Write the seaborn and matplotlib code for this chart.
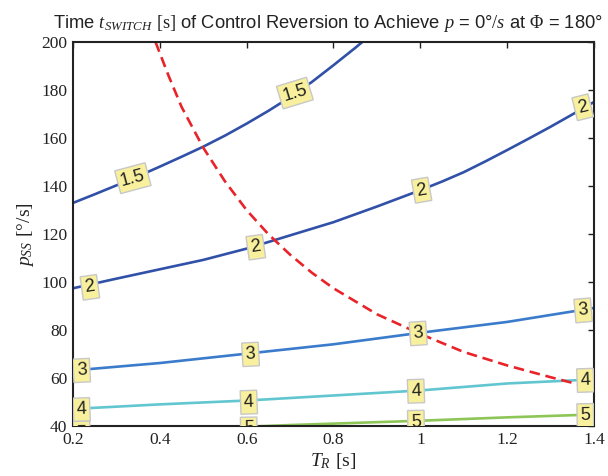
import matplotlib
matplotlib.use("Agg")
import matplotlib.pyplot as plt
import pandas as pd
import seaborn as sns

# Courbes de niveau t_SWITCH
T_15 = [0.2, 0.25, 0.3, 0.35, 0.4, 0.45, 0.5, 0.55, 0.6, 0.65, 0.7, 0.75,
        0.8, 0.85, 0.9]
P_15 = [133, 136.6, 140.3, 144.1, 148.1, 152.2, 156.4, 161, 166, 171.3,
        177, 183.3, 190.3, 197.5, 205]

T_2 = [0.2, 0.3, 0.4, 0.5, 0.6, 0.7, 0.8, 0.9, 1.0, 1.05, 1.1, 1.15, 1.2,
       1.25, 1.3, 1.35, 1.4]
P_2 = [97.5, 101.5, 105.4, 109.3, 114, 119.5, 125, 131.5, 138.3, 141.9,
       145.8, 150.3, 155, 159.8, 164.7, 169.8, 175]

T_3 = [0.2, 0.4, 0.6, 0.8, 1.0, 1.2, 1.4]
P_3 = [63.3, 66.4, 70.3, 74.2, 79, 83.5, 89.3]

T_4 = [0.2, 0.4, 0.6, 0.8, 1.0, 1.2, 1.4]
P_4 = [47.3, 49.2, 50.8, 52.9, 55, 57.9, 59.6]

T_5 = [0.55, 0.6, 0.7, 0.8, 1.0, 1.2, 1.4]
P_5 = [39.5, 39.9, 40.6, 41.2, 42.4, 43.8, 45]

# Courbe p = 0 deg/s a Phi = 180 deg (pointillés rouges)
T_RED = [0.39, 0.42, 0.45, 0.5, 0.55, 0.6, 0.65, 0.7, 0.75, 0.8, 0.9, 1.0,
         1.1, 1.2, 1.3, 1.375]
P_RED = [200, 186, 173, 156, 142, 130, 120, 111.5, 104, 97.5, 86.7, 78.5,
         71, 65.4, 60.5, 57]

LEVELS = ["1.5", "2", "3", "4", "5"]

# Étiquettes : niveau, T, p, rotation
LABELS = [
    ("1.5", 0.338, 143.3, 15), ("1.5", 0.711, 178.7, 17),
    ("2", 0.239, 97.9, 8), ("2", 0.621, 114.6, 8),
    ("2", 1.003, 138.3, 10), ("2", 1.374, 172.8, 14),
    ("3", 0.22, 63.3, 3), ("3", 0.609, 70.0, 3),
    ("3", 0.995, 78.7, 4), ("3", 1.375, 88.3, 5),
    ("4", 0.22, 47.0, 2), ("4", 0.605, 50.1, 2),
    ("4", 0.99, 54.7, 2), ("4", 1.38, 59.2, 2),
    ("5", 0.22, 37.3, 1), ("5", 0.605, 39.0, 1),
    ("5", 0.99, 41.8, 1), ("5", 1.38, 44.6, 1),
]

PALETTE = {"1.5": "#3151a8", "2": "#3151a8", "3": "#3b7bcb",
           "4": "#62c6d0", "5": "#8dc657"}

series = {"1.5": (T_15, P_15), "2": (T_2, P_2), "3": (T_3, P_3),
          "4": (T_4, P_4), "5": (T_5, P_5)}
df = pd.concat([pd.DataFrame({"T_R": t, "p_SS": p, "level": lvl})
                for lvl, (t, p) in series.items()], ignore_index=True)
df_red = pd.DataFrame({"T_R": T_RED, "p_SS": P_RED})

sns.set_theme(style="white")
plt.rcParams["font.family"] = ["Liberation Sans", "DejaVu Sans"]
plt.rcParams["mathtext.fontset"] = "custom"
plt.rcParams["mathtext.rm"] = "Liberation Serif"
plt.rcParams["mathtext.it"] = "Liberation Serif:italic"
plt.rcParams["mathtext.bf"] = "Liberation Serif:bold"

fig = plt.figure(figsize=(6.08, 4.76), dpi=100)
ax = fig.add_axes([0.120, 0.104, 0.857, 0.808])

for lvl in LEVELS:
    sns.lineplot(data=df[df["level"] == lvl], x="T_R", y="p_SS",
                 color=PALETTE[lvl], lw=1.9, sort=False, estimator=None, ax=ax)
sns.lineplot(data=df_red, x="T_R", y="p_SS", color="#e8242a", lw=1.9,
             linestyle=(0, (4, 2.2)), sort=False, estimator=None, ax=ax)

for lvl, x, y, rot in LABELS:
    ax.text(x, y, lvl, ha="center", va="center", rotation=rot,
            fontsize=13, color="#222222", zorder=5, clip_on=True,
            rotation_mode="anchor",
            bbox=dict(boxstyle="square,pad=0.18", fc="#f8f09c",
                      ec="#c8c8c8", lw=1.0))

ax.set_xlim(0.2, 1.4)
ax.set_ylim(40, 200)
ax.set_xticks([0.2, 0.4, 0.6, 0.8, 1.0, 1.2, 1.4])
ax.set_xticklabels(["0.2", "0.4", "0.6", "0.8", "1", "1.2", "1.4"])
ax.set_yticks(range(40, 201, 20))
ax.tick_params(direction="in", length=4, width=1, top=True, right=True,
               labelsize=12.5, colors="#222222", pad=4)
for lab in ax.get_xticklabels() + ax.get_yticklabels():
    lab.set_fontfamily("Liberation Serif")
for sp in ax.spines.values():
    sp.set_color("#222222")
    sp.set_linewidth(1.5)

ax.set_xlabel("$T_R$ $\\mathrm{[s]}$", fontsize=14, color="#222222", labelpad=2)
ax.set_ylabel("$p_{SS}$ $\\mathrm{[°/s]}$", fontsize=14, color="#222222",
              labelpad=4)
ax.set_title("Time $t_{SWITCH}$ $\\mathrm{[s]}$ of Control Reversion to Achieve "
             "$p$ = 0°$/s$ at $\\Phi$ = 180°",
             fontsize=13.2, color="#222222", pad=10, x=0.49)

fig.savefig("out.png", dpi=100)
